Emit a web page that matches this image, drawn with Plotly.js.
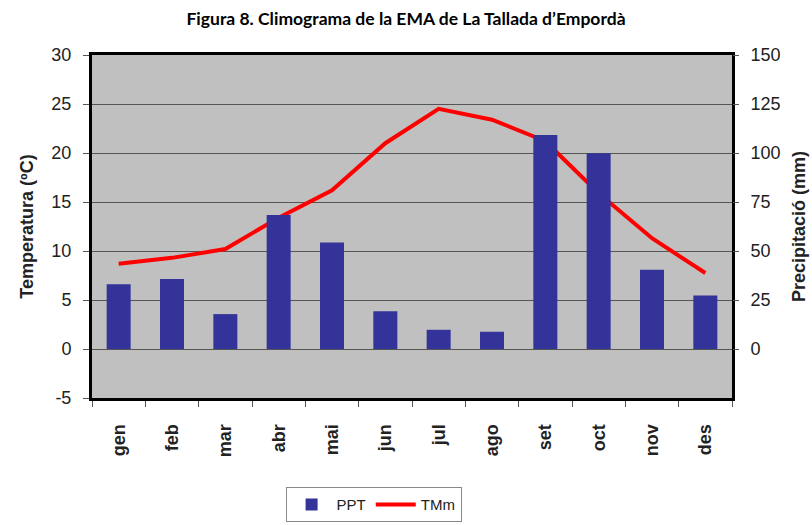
<!DOCTYPE html>
<html>
<head>
<meta charset="utf-8">
<script src="https://cdn.plot.ly/plotly-3.0.1.min.js"></script>
<style>html,body{margin:0;padding:0;background:#fff;}</style>
</head>
<body>
<div id="chart" style="width:812px;height:525px;"></div>
<script>
const months = ["gen","feb","mar","abr","mai","jun","jul","ago","set","oct","nov","des"];
const ppt = [33, 35.7, 17.8, 68.4, 54.3, 19.2, 9.8, 8.8, 109.2, 99.9, 40.4, 27.3];
const tmm = [8.7, 9.3, 10.2, 13.4, 16.2, 21.0, 24.5, 23.4, 21.2, 15.9, 11.3, 7.75];
const tempTicks = [-5, 0, 5, 10, 15, 20, 25, 30];
const tempTickText = ["-5", "0", "5", "10", "15", "20", "25", "30"];
const pptTicks = [0, 25, 50, 75, 100, 125, 150];

const traces = [
  {type:"bar", name:"PPT", x:months, y:ppt, yaxis:"y2",
   marker:{color:"#333399"}},
  {type:"scatter", mode:"lines", name:"TMm", x:months, y:tmm, yaxis:"y",
   line:{color:"#ff0000", width:4}}
];

const F = "Liberation Sans";
const tickFont = {family:F, size:18, color:"#222"};
const layout = {
  width:812, height:525,
  margin:{l:92, r:80, t:55, b:127},
  paper_bgcolor:"#ffffff",
  plot_bgcolor:"#c0c0c0",
  font:{family:F},
  title:{text:"<b>Figura 8. Climograma de la EMA de La Tallada d’Empordà</b>",
         font:{family:"Lato", size:17.5, color:"#000"},
         x:0.5, xanchor:"center", y:0.975, yanchor:"top"},
  bargap:0.55,
  showlegend:true,
  legend:{orientation:"h", x:0.44, xanchor:"center", xref:"paper",
          y:0.072, yanchor:"top", yref:"container",
          bordercolor:"#888", borderwidth:1, bgcolor:"#fff", itemwidth:40,
          font:{family:F, size:15, color:"#222"}},
  xaxis:{type:"category", tickangle:-90, tickfont:{family:F, size:18, color:"#222", weight:"bold"},
         ticks:"outside", tickson:"boundaries", ticklen:6, tickcolor:"#555",
         ticklabelstandoff:16, automargin:false,
         showline:true, linecolor:"#000", linewidth:3, mirror:true, showgrid:false},
  yaxis:{range:[-5,30], tickvals:tempTicks, ticktext:tempTickText, ticks:"outside", ticklen:6, tickcolor:"#555",
         ticklabelstandoff:8, automargin:false,
         tickfont:tickFont, showgrid:true, gridcolor:"#555", gridwidth:1,
         zeroline:false, showline:true, linecolor:"#000", linewidth:3, mirror:true,
         title:{text:"<b>Temperatura (ºC)</b>", font:{family:F, size:18, color:"#222"}, standoff:14}},
  yaxis2:{range:[-25,150], tickvals:pptTicks, overlaying:"y", side:"right",
          ticks:"outside", ticklen:6, tickcolor:"#555", tickfont:tickFont,
          ticklabelstandoff:8, automargin:false,
          showgrid:false, zeroline:false,
          title:{text:"<b>Precipitació (mm)</b>", font:{family:F, size:18, color:"#222"}, standoff:12}}
};
Plotly.newPlot("chart", traces, layout, {displayModeBar:false});
</script>
</body>
</html>
